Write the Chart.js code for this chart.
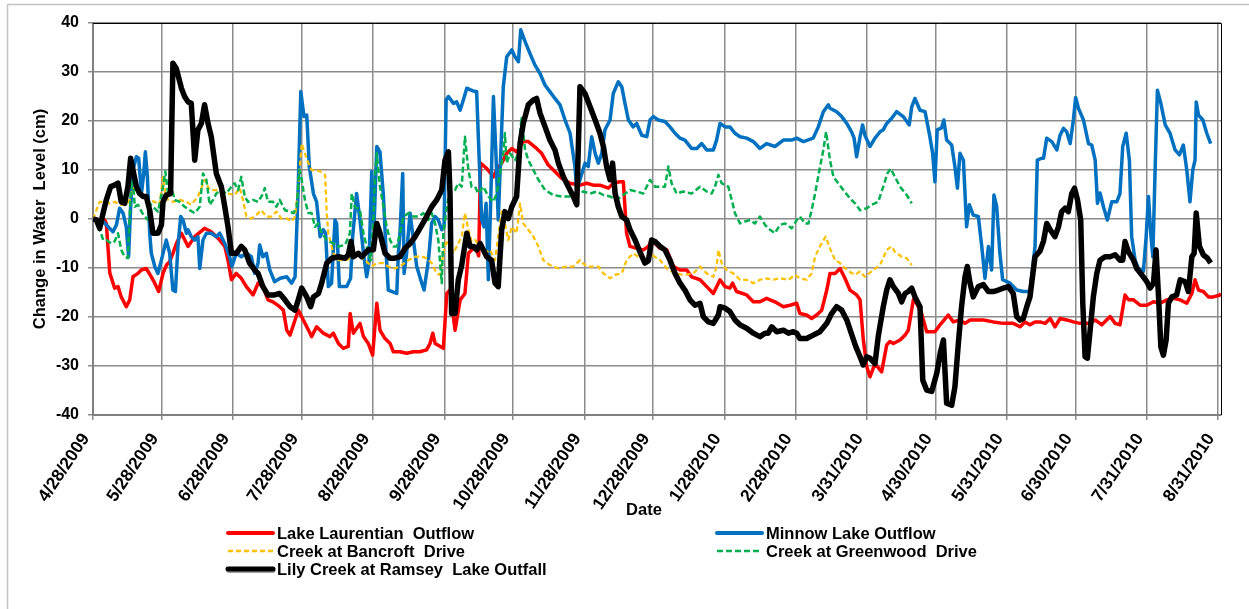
<!DOCTYPE html>
<html>
<head>
<meta charset="utf-8">
<script src="https://cdn.jsdelivr.net/npm/chart.js@4.4.0/dist/chart.umd.min.js"></script>
<style>
html,body{margin:0;padding:0;background:#fff;}
#c{display:block;}
</style>
</head>
<body>
<canvas id="c" width="1249" height="609"></canvas>
<script>
// ---- Data (x = days since 4/28/2009, y = change in water level, cm) ----
const tickDays = [0,30,61,91,122,153,183,214,244,275,306,337,367,398,428,459,490];
const tickLabels = ['4/28/2009','5/28/2009','6/28/2009','7/28/2009','8/28/2009','9/28/2009','10/28/2009','11/28/2009','12/28/2009','1/28/2010','2/28/2010','3/31/2010','4/30/2010','5/31/2010','6/30/2010','7/31/2010','8/31/2010'];
const seriesNames = ['Lake Laurentian  Outflow','Minnow Lake Outflow','Creek at Bancroft  Drive','Creek at Greenwood  Drive','Lily Creek at Ramsey  Lake Outfall'];

const laurentianDays = [0,5.1,5.8,7.3,9.4,10.9,12.3,14.5,16,17.4,19.6,21,23.2,25.4,26.9,28.6,30.5,32,33.4,34.8,36.3,38.5,41.4,44.3,48.6,51.5,55.2,57.4,58.8,60.3,62.4,64.6,66.8,69.7,71.9,74,76.2,78.4,81.3,82.9,84.4,85.8,88,89.4,91.6,93.1,95.2,97.4,100.3,103.2,104.7,106.9,109,111.2,112,113.4,116.3,117.8,119.9,121.8,123.6,125,127.2,129.4,130.8,133.7,136.6,139.5,142.4,145.3,146.8,148,149,152.6,154.1,155.5,157.7,159.9,162,163.5,166.4,168,168.8,171.5,174.4,175.8,178,180.2,182.4,184.5,187.4,189.6,193.2,195.4,198.3,201.2,204.1,207.8,212.1,215,217.9,220.8,224.5,226.6,229.5,231,232.4,233.9,236.8,239.7,241.9,243.3,244.8,247,249.9,252.8,255.7,258.6,260.7,264.4,267.3,270.2,273.1,275.3,277.4,278.6,280.3,284.7,287.6,290.5,293.4,297,300.7,303.6,306.5,307.9,310.8,313,315.2,317.4,319.6,321,323.2,325.4,327.5,329.7,332.6,334.1,335.5,337,338.4,340.6,343.5,345.7,347.1,348.6,351.5,353.7,355.1,357.3,358.7,360.9,363.1,366.7,368.9,372.5,374.7,377.6,379.8,382,387.8,392.1,396.5,400.8,403.8,405.9,408.1,410.3,412.5,414.7,416.9,419,421.2,424.1,427,429.9,434.3,436.5,439.4,443,445.2,447.3,449.5,451,453.2,456.1,459,461.9,464.8,467.7,470.6,473.5,476.4,478.6,480,481.5,483.6,485.8,488,490.9,491.3];
const laurentianLevels = [0,-0.2,-0.9,-11,-14.1,-13.8,-15.9,-17.9,-16.5,-11.8,-11.1,-10.4,-10.1,-11.8,-13.1,-14.8,-11.1,-9.4,-8.7,-7,-5,-2.9,-5.6,-3.6,-1.9,-2.6,-4.3,-5.6,-8.4,-12.4,-11.1,-12.1,-13.8,-15.5,-13.1,-13.8,-16.5,-16.9,-17.9,-18.6,-22.7,-23.7,-20.6,-18.6,-20.6,-22,-24,-22,-23.3,-24,-23.3,-25.4,-26.4,-26,-19.3,-23.3,-21.3,-24,-25.4,-27.8,-17.2,-22.7,-24.4,-25.4,-27.1,-27.1,-27.4,-27.1,-27.1,-26.7,-25.4,-23.3,-25.4,-26.4,-15.2,-14.5,-22.7,-16.5,-15.2,-7,-5.6,-7.5,11.4,10.3,8.6,10,11.4,13.4,14.4,13.7,15.8,15.8,14.4,13.4,11,9.7,8.3,7.3,6.9,7.3,6.9,6.9,6.3,7.3,7.6,7.6,-2.9,-5.6,-6,-6.3,-5.6,-4.3,-5,-6,-6.3,-9.7,-10.4,-10.4,-11.8,-12.4,-13.8,-15.2,-12.4,-13.8,-14.1,-13.1,-14.8,-15.5,-16.9,-16.9,-16.2,-16.9,-17.9,-17.6,-17.2,-19.3,-19.6,-20.3,-19.6,-18.6,-14.5,-11.1,-11.1,-10.1,-12.1,-14.5,-15.5,-16.5,-24.6,-30.1,-32.2,-29.5,-31.2,-25.7,-25,-25.4,-24.7,-23.7,-22.7,-16.5,-17.2,-19.3,-23,-23,-21.6,-19.6,-21,-20.6,-21.3,-20.6,-20.6,-21,-21.3,-21.3,-22,-21,-21.6,-21,-21,-21.3,-20.3,-22,-20.3,-20.6,-21,-21.3,-21.3,-20.6,-21.6,-19.9,-21.3,-21.6,-15.5,-16.5,-16.5,-17.6,-17.6,-16.9,-17.2,-16.5,-16.2,-16.5,-17.2,-15.2,-12.4,-14.5,-14.8,-15.9,-15.9,-15.5,-15.2];

const minnowDays = [0,3.6,5.8,8.7,10.2,11.6,13.1,14.5,15.5,16.4,17.4,18.9,19.9,21.1,22.1,22.8,23.7,24.7,25.4,26.9,28.3,29.8,31.9,33.4,34.8,35.9,37,38.2,39.2,40.7,41.4,42.8,44.3,45.7,46.5,47.9,49.4,51.5,53.7,55.2,57.4,59.5,60.5,62.4,64.6,66.8,69,70.4,71.9,72.6,74,75.5,77,79.1,81.5,84.4,86.5,88,89.4,90.5,91.9,93.1,94.2,96,97.4,98.9,100.3,101.3,102.5,103.9,105.4,106.1,107.3,110.5,112.2,113.1,114.8,116.3,117.8,119.2,120.2,121.4,122.4,123.6,125,126.5,127.6,128.6,132.3,133,133.7,134.9,135.5,136.6,138.1,141,143.2,144.2,146.1,147.5,149,150.4,151.9,152.9,153.8,154.8,157,158.4,159.9,161.3,162.8,164.2,166.4,167.1,168.1,169.3,170.3,171.2,172.2,173.2,174.4,175.5,176.5,177.6,178.7,180.2,182.4,183.8,185.3,186.3,188.2,190.3,192.5,194.7,196.9,199,201.2,203.4,205.6,207.8,209.9,210.7,212.1,214.3,215.7,217.2,218.7,220.1,221.6,223,225.2,226.6,228.8,230.3,231.7,233.2,235.3,236.8,239,241.2,242.6,244.1,246.2,249.1,251.3,253.5,255.7,257.8,260.7,263,265.1,267.3,270.2,271.6,273.1,275.3,277.4,279.6,281.8,284.7,287.6,290.5,293.4,297,300.7,304.3,306.5,309.4,313.7,315.9,318.1,320.3,321,323.9,326.1,328.3,330.4,331.5,332.6,334.1,335.2,336.2,338.4,340.6,342.8,344.2,345.7,347.8,350,352.9,355.5,356.6,358,360.2,362.4,364.5,365.7,366.7,367.7,369.6,370.6,371.8,374,375.4,376.5,377.6,379.1,380.5,381.7,383.4,385.6,387.1,388.5,390,391.4,392.4,393.6,395,396.2,399.4,402.3,405.2,408.1,410.3,411.3,413.2,414,415.4,417.6,419.8,421.2,422.7,424.1,425.6,427,428,429.2,431.4,433.6,435,436.5,437.5,438.6,440.1,441.8,443.7,445.9,447.3,448.5,450,451.4,452.4,453.9,455.3,457.5,458.7,459.7,460.7,461.6,462.6,463.6,465.1,467,469.1,471.3,473.2,474.9,476.4,477.8,479,480,480.5,481.5,483.4,485.1,486.8];
const minnowLevels = [0,-0.2,-1.2,-2.6,-1.2,2.2,1.2,-1.6,-7.7,2.5,10,12.7,12.4,5.2,9.3,13.7,8.6,-2.9,-7,-9.7,-11.1,-8.4,-4.3,-7,-14.5,-14.8,-5.6,0.5,-0.2,-2.9,-2.2,-3.6,-4.3,-3.6,-10.1,-4.3,-2.9,-2.9,-3.6,-2.9,-5,-7.7,-9.7,-7,-7.7,-7,-7.7,-11.1,-9,-5.3,-7.7,-7,-10.4,-12.8,-12.1,-11.8,-13.1,-11.8,6.6,26,20.9,21.2,10.7,5.2,3.5,-3.6,-2.2,-2.9,-13.8,-13.1,-0.2,-0.9,-13.8,-13.8,-12.1,-3.6,5.2,-0.2,-7,-11.8,-9,9.7,-1.6,14.8,13.7,4.6,-6.3,-14.5,-15.2,-7,-2.9,9.3,-11.1,-7,1.2,-9.7,-13.1,-14.5,-8.4,-0.9,0.5,-0.2,-2.2,-1.6,24.3,25,23.6,23.9,22.2,24.3,26.7,26.4,26,26,13.4,-0.2,-1.6,3.2,-12.4,3.2,25,13.4,-0.2,13.4,27,33.1,34.5,33.1,32.1,38.6,36.2,33.8,31.4,29.7,27.3,26,24.6,23.3,20.2,17.5,10.7,5.9,8,11.4,10.7,16.8,13.4,11.4,13.4,18.2,20.2,25.6,28,27,23.6,20.2,18.8,19.5,17.1,16.8,20.2,20.9,20.2,19.9,18.8,17.5,16.5,16.1,14.4,14.4,15.4,14.1,14.1,16.1,19.5,18.8,18.8,17.5,16.8,16.5,15.8,14.4,15.4,14.8,16.1,16.1,16.5,15.8,16.5,18.8,21.9,23.3,22.6,21.9,20.9,19.5,17.8,16.5,12.7,16.8,19.2,17.1,14.8,16.5,17.8,18.2,19.5,20.5,21.9,20.9,19.2,22.9,24.6,22.2,21.9,16.8,13.4,7.6,18.2,18.6,20.2,16.1,15.1,10.7,6.3,13.4,12,-1.6,2.9,0.8,0.5,-5.6,-12.1,-5.6,-10.4,4.9,2.5,-7,-12.4,-13.1,-14.5,-14.8,-14.8,-5.6,12,12.4,12.4,16.5,15.8,14.1,17.1,18.5,17.8,15.4,20.2,24.8,22.6,20.2,15.4,15.1,12,3.2,5.3,2.5,-0.2,3.5,3.5,5.2,14.8,17.5,12,-3.6,-8.4,-10.1,-10.7,-3.6,4.6,-2.9,-7.7,10,26.3,23.6,19.2,17.5,14.1,13.1,15.1,10,3.5,10,12,23.9,21.2,20.2,17.5,15.4];

const bancroftDays = [0,1.5,2.9,5.1,7.3,9.4,12.3,14.5,16,17.4,18.9,21.1,24,26.9,29,30.5,31.5,32.7,34.8,37.8,40.7,42.8,45.7,47.2,48.6,50.8,53.7,55.9,58.8,61.7,63.9,65.3,66.8,69,71.1,73.3,75.5,77.7,79.9,82,84.4,86.5,88,89.4,90.9,92.3,93.8,95.2,97.4,98.9,101.1,101.8,102.5,104.7,106.9,109.8,112.7,115.6,118.5,121.4,123.6,126.5,128.6,131.5,134.5,137.3,140.3,143.2,145.3,147.5,149.7,151.1,152.6,154.1,155.5,157,158.4,160.6,162,163.5,164.9,166.4,168.6,170.7,172.9,175.1,176.5,178,179.4,180.9,182.4,184.5,186,187.4,189.6,191.8,194,196.1,199,202.7,206.3,209.2,212.1,215,217.9,220.1,222.3,225.2,227.4,230.3,232.4,235.3,237.5,239.7,242.6,245.5,247,249.9,253.5,257.1,261.5,264.4,267.3,270.2,271.6,272.4,273.8,276,278.9,281.8,284.7,287.6,290.5,292.7,296.3,299.2,302.9,305.8,307.9,310.8,313,314.5,316.6,319.1,321,323.2,325.4,328.3,331.9,334.1,336.2,339.9,342.8,345.7,347.8,349.3,352.2,354.4,356.6];
const bancroftLevels = [0,1.8,3.5,3.5,3.2,3.5,2.9,2.9,3.9,6.3,5.9,4.6,3.9,3.5,2.9,8.6,5.2,3.9,3.5,3.9,3.5,2.9,4.6,6.3,8,5.9,5.9,5.6,5.2,4.9,6.3,3.9,0.5,0.1,0.8,1.8,0.5,0.5,1.5,0.1,0.1,-0.5,0.5,6.6,15.4,13.4,11.4,10,10,9.7,9,1.2,-2.9,-7,-8.4,-8.4,-8,-7.3,-8.4,-9.7,-9,-9,-9.7,-10.1,-9.4,-8.4,-7.7,-7.7,-8,-9,-11.1,-11.4,-7,-4.3,-5.6,-7,-5.6,-3.6,1.2,-2.2,-4.6,-4.3,-5.6,-7,-6.3,-8.4,-3.6,1.5,-0.9,-4.3,-1.6,-2.9,3.2,-0.9,-2.2,-3.6,-5.6,-8.4,-9.4,-10.1,-9.7,-9.7,-8.4,-9.7,-9.7,-9.7,-11.1,-12.1,-11.4,-11.1,-8.4,-7,-7.7,-8.4,-7,-8,-8.4,-10.1,-11.1,-11.4,-11.1,-9.7,-11.1,-11.8,-9.7,-6.3,-9,-10.4,-11.1,-12.4,-12.4,-13.1,-12.4,-12.1,-12.4,-12.1,-12.4,-11.4,-12.1,-12.4,-11.1,-7.7,-5.6,-3.6,-6,-8.4,-9,-10.4,-11.4,-10.7,-11.8,-10.4,-9.4,-6.3,-5.6,-6.7,-7.7,-8,-9.4];

const greenwoodDays = [0,2.2,4.4,5.8,8,9.4,10.9,12.3,13.8,15.2,16.4,17.4,18.2,19.6,21.1,22.5,24,24.7,26.1,28.3,30.5,31.5,32.7,34.1,35.6,37.8,39.9,42.1,44.3,46.5,47.9,49.4,50.8,52.3,53.7,55.9,58.1,60.3,61.7,63.2,64.6,66.1,67.5,69.7,71.9,74.1,74.8,76.2,78.4,79.9,81.3,83.6,85.8,87.3,88.7,89.9,90.9,92.3,93.8,95.2,96.7,98.1,99.6,101.8,104.7,106.9,109.8,111.9,112.7,114.1,116.3,117.8,119.2,121,122.1,122.8,123.6,125,126.5,127.9,129.4,130.8,132.3,133.7,135.2,137.4,139.5,141.7,143.9,146.1,147.5,149,150.4,151.9,152.6,154.1,155.5,157.7,159.1,160.6,162,163.5,164.9,166.4,167.8,170,172.2,174.4,175.8,177.3,178.7,179.4,180.2,181.6,183.8,185.3,186.7,188.2,189.6,191.8,194,196.9,200.5,204.1,207.8,210.7,213.6,216.5,219.4,222.3,225.2,228.1,231,233.9,236.8,239.7,242.6,244.8,249.1,250.6,252,254.2,257.1,260.7,264.4,267.3,269.5,270.9,272.4,273.8,276.7,278.2,279.6,281.8,284,286.2,288.3,290.5,292.7,294.9,297,299.2,301.4,304.3,306.5,307.9,310.1,311.6,313,314.5,316.4,318.1,319.3,321,322.5,324.6,326.8,329.7,331.9,334.1,337,339.1,342,344.2,346,347.4,349.3,351.5,354.4,356.6];
const greenwoodLevels = [0,-0.9,-4.3,-4.3,-5,-4.6,-2.9,-6.3,-7.7,-8,5.2,8,2.5,2.9,1.5,0.5,-0.2,3.2,2.5,1.5,6.6,9.7,5.2,6.6,3.9,3.5,2.5,1.8,1.2,2.5,9.3,8,2.9,3.9,5.2,5.9,5.2,6.6,7.3,5.9,8.6,4.6,3.5,3.9,3.5,5.2,6.3,3.5,3.5,2.5,3.9,1.8,1.5,1.2,2.5,10,8,3.9,1.2,1.2,-1.6,-0.9,-2.9,-4.3,-5,-5.6,-5.3,-2.9,5.2,2.5,1.8,-2.9,-5.6,-8.4,-0.2,8.6,13.4,6.6,2.5,-1.6,-4.3,-5.6,-5.6,-2.9,0.5,1.2,0.5,0.5,1.2,-0.2,1.2,-0.9,-4.3,-13.1,-2.9,2.5,5.9,5.9,7.3,6.6,16.8,10,6.6,6.6,5.2,6.6,4.6,3.5,5.2,9.3,13.4,17.5,11.4,13.4,12,13.4,20.9,14.1,12,10,8,5.9,4.9,4.6,4.6,5.2,5.6,5.2,5.6,4.9,4.6,3.9,4.9,5.9,5.6,5.2,8,6.6,6.6,10.7,7.3,5.2,5.6,5.2,6.6,5.6,5.2,6.6,9,7.3,6.6,3.9,1.2,-0.9,-0.5,-0.2,-0.9,0.5,-1.2,-2.2,-2.9,-1.2,-0.9,-1.9,-0.2,0.5,-0.9,-0.9,1.8,5.2,10,14.1,17.8,12,8.6,7.3,5.9,4.2,3.2,1.8,2.2,2.9,3.5,6.6,9.3,10.3,8.6,6.6,4.9,3.2];

const lilyDays = [0,1.5,2.9,4.4,5.8,7.7,9.4,10.9,12.3,13.8,15.2,16.4,17.4,18.9,20.3,21.8,23.2,24.7,26.1,28.3,29.8,30.5,31.9,33.8,34.8,36.3,38.5,39.9,41.4,42.8,44.3,45.7,47.2,48.6,50.1,51.5,53.7,55.9,57.4,58.8,60.3,62.4,64.6,66.1,68.2,70.4,71.9,74,76.2,79.1,81.3,83.6,85.8,88,89.4,90.9,93.1,94.8,96,98.2,99.6,101.8,104,106.9,109.8,111.2,112.4,113.4,115.6,117,119.9,122.1,123.6,125,127.2,129.4,131.5,133.7,135.9,138.1,140.3,142.4,145.3,147.5,149.7,151.9,153.3,154.8,155.5,156.2,157.7,159.1,160.6,162.8,164.2,165.7,167.1,168.6,170,171.5,173.6,175.1,176.5,178,179.4,180.9,182.4,184.5,186,187.4,189.6,191.8,193.2,194.7,196.9,199,201.2,202.7,204.9,207,209.2,210.7,212.1,214.3,216.5,218.7,220.8,222.3,223.7,225.2,226.3,227.4,228.8,230.3,232.4,233.9,236.1,238.2,240.4,241.9,243.3,244.8,247,249.1,251.3,253.5,255.7,257.8,260,262.2,264.4,265.8,268,270.2,272.4,273.1,275.3,277.4,279.6,281.8,284.7,287.6,290.5,292.7,294.1,295.6,297.8,300.7,302.9,305,306.5,307.9,310.8,313.7,316.6,319.6,321.7,323.9,326.1,328.3,330.4,332.2,334,335.5,337,338.4,340.6,342,344.2,345.7,347.1,348.6,350.8,352.2,353.7,355.1,356.6,358,360.2,361.4,363.1,365.3,367.5,369,370.4,371.8,374,375.4,376.9,378.3,379.8,380.8,382,383.4,385.6,387.8,390,392.1,394.3,396.5,398.7,400.8,402.3,403.8,405.2,406.7,408.1,410.3,412.5,414,415.4,416.9,419,420.5,421.9,423.4,424.8,426.3,427.5,428.8,430.2,431.1,432.1,433.1,434.3,435.7,437.2,438.6,440.8,443,445.2,447.3,448.5,449.5,451,453.2,454.6,456.8,459,460.4,461.9,463,464.1,465.1,466.2,467.4,468.4,469.9,472,473.5,475.7,477.1,478.6,479.6,480.5,481.9,483.6,485.4,486.8];
const lilyLevels = [0,-0.2,-1.9,1.2,3.9,6.6,6.9,7.3,3.5,3.2,6.6,12.4,10,6.6,5.2,4.6,4.6,1.8,-2.9,-2.9,-1.2,3.5,4.9,5.2,31.8,30.7,26.7,25,23.9,23.6,12,18.2,19.5,23.3,19.5,16.8,9.3,6.6,2.5,-1.6,-7,-7,-5.6,-6.3,-9,-10.4,-11.1,-13.8,-15.5,-15.5,-15.2,-16.5,-17.9,-18.6,-16.5,-14.1,-15.9,-17.9,-15.9,-15.2,-13.1,-9,-8,-7.7,-8,-7.3,-4.6,-7.7,-7,-7.7,-6.3,-6.3,-0.9,-2.9,-7,-8,-8,-7.7,-6,-5,-3.6,-1.9,0.5,2.5,3.9,5.9,12,13.7,5.2,-19.3,-19.3,-12.4,-9.4,-2.9,-5.6,-5.6,-6.3,-5,-6.3,-7.7,-8.4,-13.1,-13.8,-2.2,1.5,0.1,2.5,4.6,15.4,19.5,23.3,24.3,24.6,21.6,18.8,16.1,14.1,11.4,8.6,6.6,4.6,2.9,27,25.6,22.9,20.2,17.5,14.8,10.7,8,11.4,5.2,2.5,0.5,-0.2,-2.2,-4.3,-6.7,-9,-8.5,-4.3,-4.6,-5.6,-6.3,-8.4,-11.1,-13.1,-14.5,-16.5,-17.6,-17.2,-19.9,-21,-21.3,-19.6,-17.9,-18.2,-18.9,-20.6,-21.6,-22.3,-23.3,-24,-23.3,-23.3,-22,-23,-22.7,-23.3,-23,-23.3,-24.4,-24.4,-23.7,-23,-21.3,-19.3,-17.9,-18.6,-20.6,-23.5,-26,-28,-29.8,-28.1,-28.4,-29.5,-24,-17.9,-14.5,-12.4,-13.8,-15.2,-16.9,-15.2,-14.8,-14.1,-15.9,-17.9,-32.9,-34.9,-35.2,-31.5,-27.4,-24.7,-37.6,-38,-34.3,-25.4,-17.9,-11.8,-9.7,-13.1,-15.9,-13.8,-13.4,-14.8,-14.8,-14.5,-14.1,-13.8,-15.2,-19.9,-20.6,-20.3,-17.9,-15.9,-7.7,-6.5,-4.5,-0.9,-2.2,-3.6,-1.6,1.5,2.2,1.5,5.2,6.3,3.9,-0.2,-17.2,-28.1,-28.4,-22.7,-15.9,-11.1,-8.4,-7.7,-7.7,-7.3,-8.4,-8.4,-4.6,-6.7,-8.4,-10.1,-11.4,-12.8,-14.1,-13.1,-6.3,-15.9,-26.1,-27.8,-24.7,-17.2,-15.9,-15.5,-12.4,-12.8,-14.8,-7.7,-7,1.2,-5.6,-7.3,-8,-9];

// ---- Build chart ----
const FONT = "'Liberation Sans', Arial, Helvetica, sans-serif";
Chart.defaults.font.family = FONT;
const pts = (d, v) => d.map((x, i) => ({x: x, y: v[i]}));

const datasets = [
  {label: seriesNames[0], data: pts(laurentianDays, laurentianLevels), borderColor: '#FF0000', borderWidth: 3.5, order: 4},
  {label: seriesNames[1], data: pts(minnowDays, minnowLevels), borderColor: '#0070C0', borderWidth: 3.5, order: 3},
  {label: seriesNames[2], data: pts(bancroftDays, bancroftLevels), borderColor: '#FFC000', borderWidth: 2.25, borderDash: [5, 3], order: 2},
  {label: seriesNames[3], data: pts(greenwoodDays, greenwoodLevels), borderColor: '#00B050', borderWidth: 2.5, borderDash: [6, 3], order: 1},
  {label: seriesNames[4], data: pts(lilyDays, lilyLevels), borderColor: '#000000', borderWidth: 5.5, order: 0}
];

const decor = {
  id: 'decor',
  beforeDraw(chart) {
    const c = chart.ctx;
    c.save();
    c.fillStyle = '#fff';
    c.fillRect(0, 0, chart.width, chart.height);
    c.strokeStyle = '#c4c4c4';
    c.lineWidth = 1.5;
    c.beginPath();
    c.moveTo(7.5, 609); c.lineTo(7.5, 4.5); c.lineTo(1249, 4.5);
    c.stroke();
    c.restore();
  },
  afterDraw(chart) {
    const c = chart.ctx, a = chart.chartArea;
    c.save();
    c.strokeStyle = '#000';
    c.lineWidth = 1;
    c.beginPath();
    c.moveTo(a.left, a.top + 0.5); c.lineTo(a.right + 0.5, a.top + 0.5); c.lineTo(a.right + 0.5, a.bottom);
    c.stroke();
    c.fillStyle = '#000';
    c.font = "bold 16.5px " + FONT;
    c.textAlign = 'center';
    c.textBaseline = 'middle';
    c.fillText('Date', 644, 510);
    c.save();
    c.translate(40, 219);
    c.rotate(-Math.PI / 2);
    c.fillText('Change in Water  Level (cm)', 0, 0);
    c.restore();
    const items = [
      {i: 0, x: 228, y: 533}, {i: 1, x: 717, y: 533},
      {i: 2, x: 228, y: 551}, {i: 3, x: 717, y: 551},
      {i: 4, x: 228, y: 569}
    ];
    c.textAlign = 'left';
    items.forEach(it => {
      const ds = chart.data.datasets[it.i];
      c.save();
      if (it.i === 4) {
        c.strokeStyle = '#a0a0a0';
        c.lineWidth = 5;
        c.lineCap = 'round';
        c.beginPath(); c.moveTo(it.x + 1, it.y + 1.5); c.lineTo(it.x + 45, it.y + 1.5); c.stroke();
      }
      c.strokeStyle = ds.borderColor;
      c.lineWidth = it.i === 4 ? 5 : (ds.borderDash ? 2.5 : 4);
      c.lineCap = ds.borderDash ? 'butt' : 'round';
      c.setLineDash(ds.borderDash || []);
      c.beginPath(); c.moveTo(it.x, it.y); c.lineTo(it.x + 45, it.y); c.stroke();
      c.restore();
      c.fillText(ds.label, it.x + 49, it.y + 1);
    });
    c.restore();
  }
};

new Chart(document.getElementById('c'), {
  type: 'line',
  data: {datasets: datasets},
  options: {
    responsive: false,
    animation: false,
    devicePixelRatio: 1,
    layout: {padding: {left: 0, top: 23, right: 28, bottom: 0}},
    elements: {point: {radius: 0}, line: {tension: 0, borderJoinStyle: 'round', fill: false}},
    plugins: {legend: {display: false}, tooltip: {enabled: false}, title: {display: false}},
    scales: {
      x: {
        type: 'linear', min: 0, max: 491.3,
        afterBuildTicks(s) { s.ticks = tickDays.map(v => ({value: v})); },
        afterFit(s) { s.height = 194; s.paddingLeft = 0; s.paddingRight = 0; },
        ticks: {
          autoSkip: false, minRotation: 56, maxRotation: 56, padding: 9.6, labelOffset: -7,
          color: '#000', font: {size: 17.5, weight: 'bold'},
          callback: (v, i) => tickLabels[i]
        },
        grid: {color: '#8c8c8c', lineWidth: 1.5, tickLength: 5},
        border: {color: '#808080', width: 2}
      },
      y: {
        min: -40, max: 40,
        afterFit(s) { s.width = 93; },
        ticks: {stepSize: 10, padding: 9, color: '#000', font: {size: 16, weight: 'bold'}},
        grid: {color: '#8c8c8c', lineWidth: 1.5, tickLength: 5},
        border: {color: '#808080', width: 2}
      }
    }
  },
  plugins: [decor]
});
</script>
</body>
</html>
